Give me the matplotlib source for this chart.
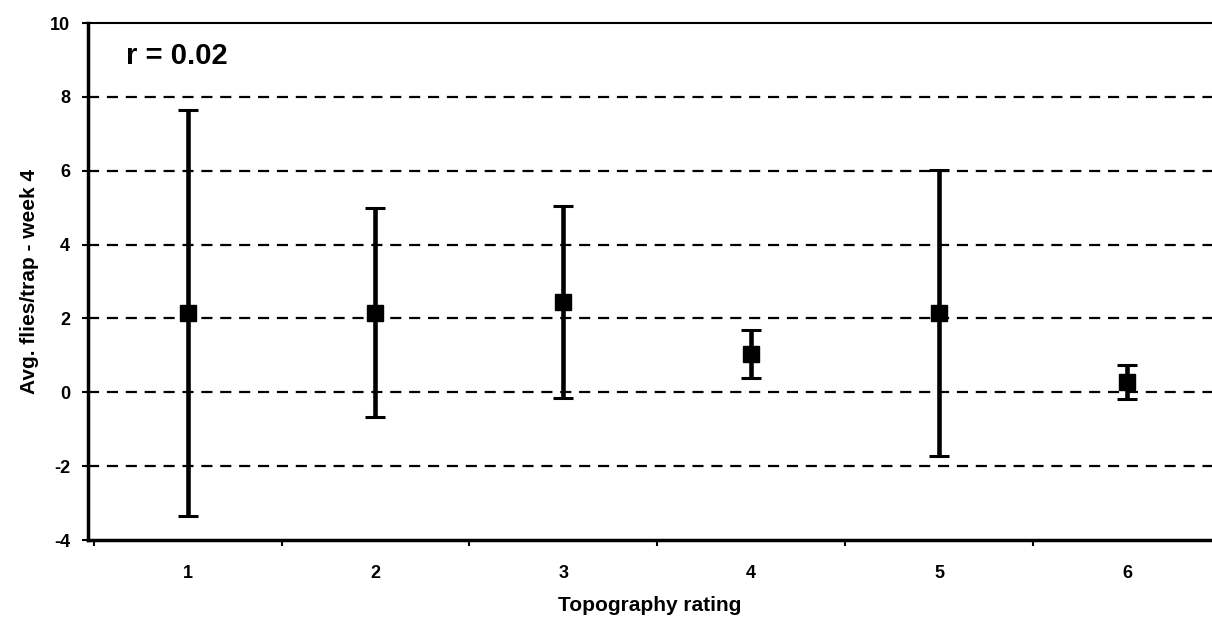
import matplotlib
matplotlib.use("Agg")
import matplotlib.pyplot as plt
import numpy as np

plt.rcParams['font.family'] = ['Liberation Sans', 'DejaVu Sans']
plt.rcParams['font.weight'] = 'bold'

# mean flies per trap (week 4) and spread, by topography rating
ratings = [1, 2, 3, 4, 5, 6]
means = [2.14, 2.15, 2.45, 1.03, 2.15, 0.28]
errs = [5.5, 2.83, 2.6, 0.65, 3.88, 0.45]
yticks = [-4, -2, 0, 2, 4, 6, 8, 10]

fig = plt.figure(figsize=(12.12, 6.22), dpi=100)
ax = fig.add_axes([0.0726, 0.1318, 0.927, 0.831])

for y in yticks[1:-1]:
    ax.axhline(y, color='black', lw=1.6, linestyle=(0, (5, 3.5)), zorder=1)

ax.errorbar(ratings, means, yerr=errs, fmt='s', color='black',
            ecolor='black', elinewidth=3.3, capsize=7.5, capthick=2.2,
            markersize=11, zorder=3)

ax.set_xlim(0.47, 6.45)
ax.set_ylim(-4, 10)
ax.set_yticks(yticks)
ax.set_yticklabels([str(t) for t in yticks], fontsize=13, fontweight='bold')
ax.set_xticks(ratings)
ax.set_xticklabels([str(r) for r in ratings], fontsize=13, fontweight='bold')
ax.set_xticks(np.arange(0.5, 6.5, 1.0), minor=True)
ax.tick_params(axis='x', which='major', length=0, pad=18)
ax.tick_params(axis='x', which='minor', length=4, width=1.5, direction='out')
ax.tick_params(axis='y', length=4, width=1.5, direction='out', pad=9)

ax.spines['right'].set_visible(False)
ax.spines['left'].set_linewidth(2.5)
ax.spines['bottom'].set_linewidth(2.5)
ax.spines['top'].set_linewidth(1.5)

ax.set_xlabel('Topography rating', fontsize=15, fontweight='bold', labelpad=10)
ax.set_ylabel('Avg. flies/trap - week 4', fontsize=15, fontweight='bold', labelpad=8)

ax.text(0.67, 9.1, 'r = 0.02', fontsize=21, fontweight='bold', va='center')

fig.savefig('out.png', dpi=100)
